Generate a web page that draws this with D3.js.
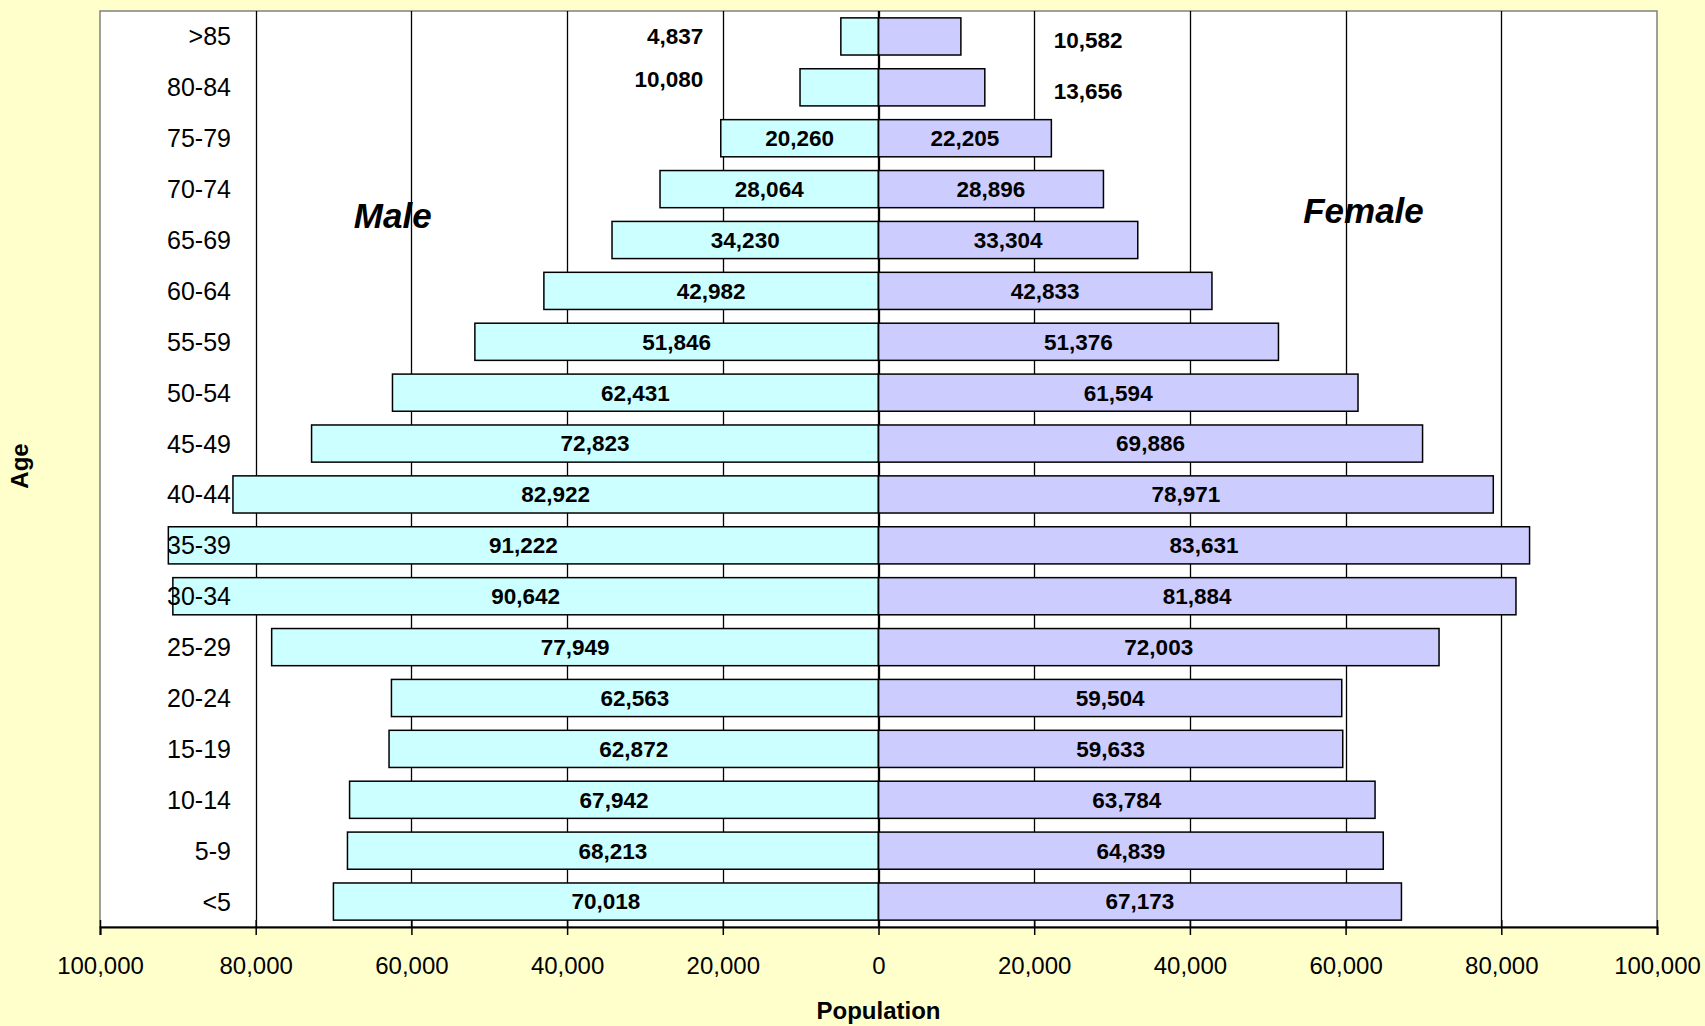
<!DOCTYPE html>
<html>
<head>
<meta charset="utf-8">
<script src="https://cdn.jsdelivr.net/npm/d3@7"></script>
<style>
    html, body { margin: 0; padding: 0; background: #ffffcc; }
    svg { display: block; }
    text { font-family: Arial, "Liberation Sans", sans-serif; fill: #000; }
</style>
</head>
<body>
<div id="chart"></div>
<script>
// age groups, top of the pyramid first
let ages = [">85", "80-84", "75-79", "70-74", "65-69", "60-64", "55-59", "50-54", "45-49",
            "40-44", "35-39", "30-34", "25-29", "20-24", "15-19", "10-14", "5-9", "<5"];
let male = [4837, 10080, 20260, 28064, 34230, 42982, 51846, 62431, 72823,
            82922, 91222, 90642, 77949, 62563, 62872, 67942, 68213, 70018];
let female = [10582, 13656, 22205, 28896, 33304, 42833, 51376, 61594, 69886,
              78971, 83631, 81884, 72003, 59504, 59633, 63784, 64839, 67173];
let ticks = [-100000, -80000, -60000, -40000, -20000, 0, 20000, 40000, 60000, 80000, 100000];

let settings = {
    width: 1705,
    height: 1026,
    left: 100,
    right: 1657,
    top: 11,
    bottom: 927,
    male_fill: "#ccffff",
    female_fill: "#ccccff",
};

function draw() {
    let svg = d3.select("#chart").append("svg")
        .attr("width", settings.width)
        .attr("height", settings.height);

    svg.append("rect")
        .attr("width", settings.width)
        .attr("height", settings.height)
        .attr("fill", "#ffffcc");

    let x = d3.scaleLinear().domain([-100000, 100000]).range([settings.left, settings.right]);
    let y = d3.scaleBand().domain(ages).range([settings.top, settings.bottom])
        .paddingInner(0.27).paddingOuter(0.135);

    // plot area
    svg.append("rect")
        .attr("x", settings.left)
        .attr("y", settings.top)
        .attr("width", settings.right - settings.left)
        .attr("height", settings.bottom - settings.top)
        .attr("fill", "#fff")
        .attr("stroke", "#808080")
        .attr("stroke-width", 1.5);

    // gridlines
    svg.append("g")
        .selectAll("line")
        .data(ticks.filter(t => Math.abs(t) < 100000))
        .enter().append("line")
        .attr("x1", d => Math.round(x(d)) + 0.5)
        .attr("x2", d => Math.round(x(d)) + 0.5)
        .attr("y1", settings.top)
        .attr("y2", settings.bottom)
        .attr("stroke", "#000")
        .attr("stroke-width", 1.3);

    let rows = ages.map((age, i) => ({age, male: male[i], female: female[i]}));

    svg.append("g").selectAll("rect")
        .data(rows)
        .enter().append("rect")
        .attr("x", d => x(-d.male))
        .attr("y", d => y(d.age))
        .attr("width", d => x(0) - x(-d.male))
        .attr("height", y.bandwidth())
        .attr("fill", settings.male_fill)
        .attr("stroke", "#000")
        .attr("stroke-width", 1.5);

    svg.append("g").selectAll("rect")
        .data(rows)
        .enter().append("rect")
        .attr("x", x(0))
        .attr("y", d => y(d.age))
        .attr("width", d => x(d.female) - x(0))
        .attr("height", y.bandwidth())
        .attr("fill", settings.female_fill)
        .attr("stroke", "#000")
        .attr("stroke-width", 1.5);

    // centre line on top of bars
    svg.append("line")
        .attr("x1", x(0)).attr("x2", x(0))
        .attr("y1", settings.top).attr("y2", settings.bottom)
        .attr("stroke", "#000").attr("stroke-width", 1.3);

    // value labels, the two smallest rows sit outside their bars
    let fmt = d3.format(",");
    let outside = {
        ">85": {dym: 0, dyf: 4},
        "80-84": {dym: -8, dyf: 4},
    };

    let labels = svg.append("g")
        .attr("font-size", "22.5px")
        .attr("font-weight", "bold");

    for (let d of rows) {
        let cy = y(d.age) + y.bandwidth() / 2;
        let o = outside[d.age];
        if (o) {
            labels.append("text")
                .attr("x", x(-22500)).attr("y", cy + o.dym)
                .attr("dy", "0.35em").attr("text-anchor", "end")
                .text(fmt(d.male));
            labels.append("text")
                .attr("x", x(22500)).attr("y", cy + o.dyf)
                .attr("dy", "0.35em").attr("text-anchor", "start")
                .text(fmt(d.female));
        } else {
            labels.append("text")
                .attr("x", (x(-d.male) + x(0)) / 2).attr("y", cy)
                .attr("dy", "0.35em").attr("text-anchor", "middle")
                .text(fmt(d.male));
            labels.append("text")
                .attr("x", (x(d.female) + x(0)) / 2).attr("y", cy)
                .attr("dy", "0.35em").attr("text-anchor", "middle")
                .text(fmt(d.female));
        }
    }

    // age labels inside the plot
    svg.append("g")
        .selectAll("text")
        .data(ages)
        .enter().append("text")
        .attr("x", 231)
        .attr("y", d => y(d) + y.bandwidth() / 2)
        .attr("dy", "0.36em")
        .attr("text-anchor", "end")
        .attr("font-size", "25px")
        .text(d => d);

    // bottom axis
    let axis = d3.axisBottom(x)
        .tickValues(ticks)
        .tickSize(8)
        .tickPadding(22)
        .tickFormat(d => fmt(Math.abs(d)));

    let ax = svg.append("g")
        .attr("transform", "translate(0," + settings.bottom + ")")
        .call(axis);
    ax.select(".domain").attr("stroke", "#000").attr("stroke-width", 2);
    ax.selectAll(".tick line").attr("stroke", "#000").attr("stroke-width", 1.5).attr("y1", -7);
    ax.selectAll(".tick text")
        .attr("font-size", "24px")
        .attr("font-family", "Arial, 'Liberation Sans', sans-serif")
        .attr("fill", "#000");

    svg.append("text")
        .attr("x", x(0)).attr("y", 1011)
        .attr("dy", "0.35em")
        .attr("text-anchor", "middle")
        .attr("font-size", "24px")
        .attr("font-weight", "bold")
        .text("Population");

    svg.append("text")
        .attr("transform", "translate(20,466) rotate(-90)")
        .attr("dy", "0.35em")
        .attr("text-anchor", "middle")
        .attr("font-size", "24px")
        .attr("font-weight", "bold")
        .text("Age");

    svg.append("text")
        .attr("x", x(-62400)).attr("y", 228)
        .attr("text-anchor", "middle")
        .attr("font-size", "35px")
        .attr("font-weight", "bold")
        .attr("font-style", "italic")
        .text("Male");

    svg.append("text")
        .attr("x", x(62300)).attr("y", 223)
        .attr("text-anchor", "middle")
        .attr("font-size", "35px")
        .attr("font-weight", "bold")
        .attr("font-style", "italic")
        .text("Female");
}

draw();
</script>
</body>
</html>
